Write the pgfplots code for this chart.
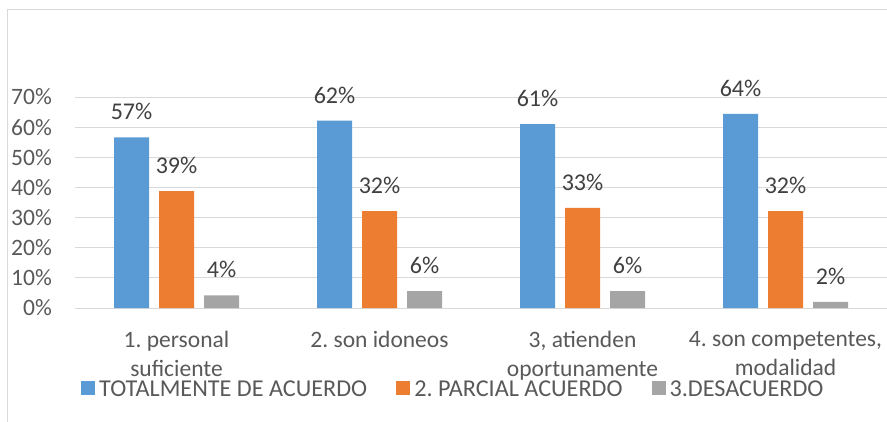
\documentclass[border=0pt]{standalone}
\usepackage{fontspec}
\setmainfont{Carlito}
\usepackage{pgfplots}
\pgfplotsset{compat=1.18}
\frenchspacing
\definecolor{cblue}{HTML}{5B9BD5}
\definecolor{corange}{HTML}{ED7D31}
\definecolor{cgray}{HTML}{A5A5A5}
\definecolor{gridc}{HTML}{D9D9D9}
\definecolor{txt}{HTML}{595959}
\definecolor{lbl}{HTML}{404040}
\newcommand{\fs}{\fontsize{23.5bp}{29bp}\selectfont\frenchspacing}
\newcommand{\fl}{\fontsize{24bp}{29bp}\selectfont\frenchspacing}
\newcommand{\fg}{\fontsize{24.2bp}{29bp}\selectfont\frenchspacing}
\begin{document}
\begin{tikzpicture}[x=1bp,y=1bp]
\path[use as bounding box] (0,0) rectangle (887,421);
\draw[gridc, line width=1bp] (7,-2) -- (7,411) -- (890,411);
\begin{axis}[
  at={(75bp,113bp)}, anchor=south west,
  scale only axis, width=812bp, height=211bp,
  xmin=-0.5, xmax=3.5, ymin=0, ymax=70,
  ybar=10bp, bar width=35bp,
  clip=false,
  axis line style={draw=none},
  ymajorgrids, grid style={gridc, line width=1bp},
  major tick length=0pt,
  xtick={0,1,2,3},
  xticklabels={{1. personal\\suficiente},{2. son idoneos},{3, atienden\\oportunamente},{4. son competentes,\\modalidad}},
  ytick={0,10,20,30,40,50,60,70},
  yticklabels={0\%,10\%,20\%,30\%,40\%,50\%,60\%,70\%},
  yticklabel style={font=\fs, text=txt, anchor=east, inner sep=0pt, xshift=-23bp},
  xticklabel style={font=\fs, text=txt, anchor=north, inner sep=0pt, yshift=-23bp, align=center},
  /pgf/number format/assume math mode=true,
  nodes near coords={\pgfmathprintnumber[fixed,precision=0]{\pgfplotspointmeta}\%},
  every node near coord/.append style={font=\fl, text=lbl, anchor=base, inner sep=0pt, yshift=17.5bp},
  legend style={draw=none, fill=none, font=\fg, text=txt, legend columns=-1,
    at={(axis description cs:0.0074,-0.385)}, anchor=west, inner sep=0pt,
    nodes={inner sep=0pt},
    /tikz/every odd column/.append style={column sep=4bp},
    /tikz/every even column/.append style={column sep=29bp}},
  legend cell align=left,
  legend image code/.code={\fill[#1] (0bp,-6bp) rectangle (14bp,8bp);},
]
\addplot[fill=cblue, draw=none] coordinates {(0,56.6) (1,62.2) (2,61.0) (3,64.4)};
\addplot[fill=corange, draw=none] coordinates {(0,38.8) (1,32.1) (2,33.2) (3,32.1)};
\addplot[fill=cgray, draw=none] coordinates {(0,4.2) (1,5.6) (2,5.6) (3,2.0)};
\legend{TOTALMENTE DE ACUERDO, 2. PARCIAL ACUERDO, 3.DESACUERDO}
\end{axis}
\end{tikzpicture}
\end{document}
